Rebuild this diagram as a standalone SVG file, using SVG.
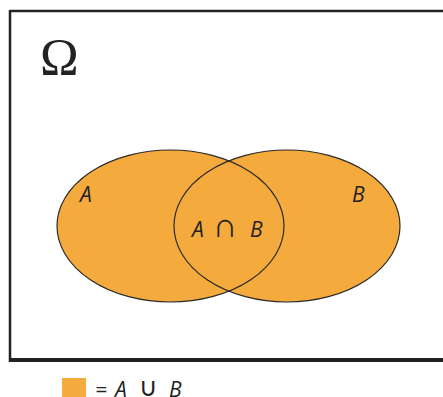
<svg xmlns="http://www.w3.org/2000/svg" width="443" height="397" viewBox="0 0 443 397">
<style>
.set{fill:#F5AA3D;stroke:none}
.edge{fill:none;stroke:#2a2a2a;stroke-width:1.2}
.lbl{font-family:"Open Sans","Noto Sans",sans-serif;font-style:italic;font-size:21px;fill:#222}
.op{font-family:"DejaVu Sans",sans-serif;font-weight:200;font-size:34px;fill:#222}
.op2{font-family:"DejaVu Sans",sans-serif;font-size:26px;fill:#222}
</style>
<rect width="443" height="397" fill="#fff"/>
<g id="frame">
<path d="M10,11 H443" stroke="#222" stroke-width="2.5" fill="none"/>
<path d="M10,10 V362" stroke="#222" stroke-width="2.5" fill="none"/>
<path d="M9,360 H443" stroke="#222" stroke-width="4" fill="none"/>
<text x="40" y="75" font-family="Liberation Serif,serif" font-size="52" fill="#222">Ω</text>
</g>
<g id="setA"><ellipse class="set" cx="170.5" cy="226" rx="113.5" ry="76"/></g>
<g id="setB"><ellipse class="set" cx="287" cy="226" rx="113" ry="76"/></g>
<g id="outlines">
<ellipse class="edge" cx="170.5" cy="226" rx="113.5" ry="76"/>
<ellipse class="edge" cx="287" cy="226" rx="113" ry="76"/>
</g>
<g id="labels">
<text class="lbl" x="80" y="202">A</text>
<text class="lbl" x="352" y="202">B</text>
<text class="lbl" x="192" y="237">A</text>
<text class="op" x="213" y="237">∩</text>
<text class="lbl" x="250" y="237">B</text>
</g>
<g id="legend">
<rect x="62" y="378" width="24" height="22" fill="#F5AA3D"/>
<text class="lbl" x="95" y="397" font-style="normal" font-size="24">=</text>
<text class="lbl" x="115" y="397" font-size="24">A</text>
<text class="op2" x="139" y="396">∪</text>
<text class="lbl" x="169" y="397" font-size="24">B</text>
</g>
</svg>
